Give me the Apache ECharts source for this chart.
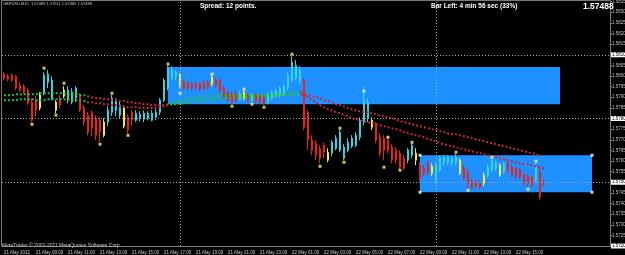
<!DOCTYPE html>
<html><head><meta charset="utf-8">
<script src="https://cdn.jsdelivr.net/npm/echarts@6/dist/echarts.min.js"></script>
<style>html,body{margin:0;padding:0;background:#000;}#c{width:625px;height:255px;}</style>
</head><body><div id="c"></div>
<script>
// ---- data (GBPUSD M15, 21-22 May 2012) ----
const opens = [1.58009,1.57999,1.58004,1.57999,1.57957,1.57952,1.57933,1.57877,1.57886,1.57849,
1.57919,1.57971,1.57896,1.57877,1.57896,1.57905,1.57886,1.57877,1.57896,1.57910,
1.57849,1.57816,1.57830,1.57801,1.57792,1.57721,1.57783,1.57830,1.57839,1.57816,
1.57849,1.57806,1.57830,1.57792,1.57801,1.57797,1.57801,1.57792,1.57806,1.57830,
1.57886,1.57943,1.57990,1.57999,1.58004,1.57971,1.57966,1.57962,1.57966,1.57962,
1.57966,1.57971,1.57962,1.57980,1.57980,1.57943,1.57919,1.57910,1.57914,1.57891,
1.57896,1.57910,1.57886,1.57910,1.57905,1.57900,1.57877,1.57896,1.57905,1.57910,
1.57914,1.57943,1.57980,1.57990,1.57980,1.57980,1.57830,1.57698,1.57684,1.57660,
1.57674,1.57641,1.57637,1.57660,1.57651,1.57613,1.57651,1.57670,1.57674,1.57712,
1.57783,1.57801,1.57792,1.57768,1.57712,1.57707,1.57698,1.57665,1.57651,1.57637,
1.57613,1.57604,1.57627,1.57637,1.57580,1.57566,1.57589,1.57542,1.57509,1.57557,
1.57589,1.57594,1.57589,1.57594,1.57604,1.57566,1.57547,1.57500,1.57500,1.57495,
1.57495,1.57533,1.57557,1.57566,1.57580,1.57547,1.57589,1.57571,1.57566,1.57557,
1.57533,1.57528,1.57524,1.57509,1.57547,1.57489];
const closes = [1.57990,1.57985,1.57980,1.57943,1.57933,1.57924,1.57872,1.57792,1.57839,1.57910,
1.58004,1.58009,1.57980,1.57839,1.57863,1.57933,1.57933,1.57924,1.57943,1.57839,
1.57783,1.57736,1.57754,1.57721,1.57736,1.57783,1.57839,1.57896,1.57886,1.57863,
1.57764,1.57745,1.57792,1.57825,1.57820,1.57825,1.57825,1.57825,1.57830,1.57886,
1.57980,1.58037,1.58028,1.58018,1.57957,1.57943,1.57943,1.57943,1.57947,1.57938,
1.57943,1.57947,1.57995,1.57952,1.57933,1.57905,1.57886,1.57877,1.57886,1.57919,
1.57924,1.57886,1.57910,1.57882,1.57877,1.57872,1.57910,1.57924,1.57933,1.57943,
1.57952,1.58004,1.58065,1.58051,1.58028,1.57759,1.57698,1.57651,1.57627,1.57613,
1.57641,1.57604,1.57688,1.57707,1.57736,1.57665,1.57688,1.57707,1.57721,1.57792,
1.57886,1.57877,1.57759,1.57698,1.57637,1.57651,1.57651,1.57604,1.57604,1.57571,
1.57566,1.57651,1.57674,1.57604,1.57519,1.57542,1.57547,1.57575,1.57580,1.57613,
1.57618,1.57618,1.57613,1.57618,1.57542,1.57519,1.57495,1.57476,1.57481,1.57476,
1.57533,1.57571,1.57604,1.57594,1.57533,1.57589,1.57557,1.57533,1.57524,1.57524,
1.57495,1.57495,1.57486,1.57571,1.57429,1.57488];
const lows = [1.57980,1.57976,1.57971,1.57933,1.57924,1.57914,1.57863,1.57783,1.57811,1.57839,
1.57910,1.57943,1.57886,1.57825,1.57849,1.57896,1.57872,1.57867,1.57877,1.57830,
1.57768,1.57721,1.57717,1.57698,1.57688,1.57712,1.57764,1.57811,1.57811,1.57801,
1.57754,1.57731,1.57764,1.57783,1.57787,1.57783,1.57792,1.57787,1.57792,1.57816,
1.57877,1.57933,1.57980,1.57980,1.57943,1.57933,1.57933,1.57933,1.57938,1.57929,
1.57933,1.57938,1.57952,1.57943,1.57919,1.57896,1.57877,1.57867,1.57877,1.57882,
1.57886,1.57877,1.57877,1.57872,1.57867,1.57863,1.57867,1.57886,1.57896,1.57900,
1.57905,1.57933,1.57971,1.57980,1.57962,1.57745,1.57651,1.57627,1.57604,1.57589,
1.57613,1.57594,1.57622,1.57651,1.57641,1.57604,1.57641,1.57660,1.57665,1.57698,
1.57768,1.57783,1.57745,1.57684,1.57622,1.57604,1.57637,1.57589,1.57589,1.57561,
1.57557,1.57589,1.57613,1.57580,1.57505,1.57528,1.57533,1.57528,1.57491,1.57547,
1.57575,1.57580,1.57575,1.57580,1.57533,1.57509,1.57472,1.57467,1.57472,1.57467,
1.57481,1.57519,1.57547,1.57552,1.57524,1.57538,1.57542,1.57524,1.57514,1.57514,
1.57486,1.57481,1.57476,1.57500,1.57415,1.57482];
const highs = [1.58018,1.58009,1.58013,1.58004,1.57971,1.57962,1.57943,1.57896,1.57905,1.57924,
1.58018,1.58028,1.57999,1.57886,1.57910,1.57952,1.57952,1.57943,1.57952,1.57919,
1.57863,1.57830,1.57839,1.57816,1.57806,1.57801,1.57858,1.57910,1.57896,1.57886,
1.57858,1.57820,1.57839,1.57839,1.57834,1.57839,1.57834,1.57839,1.57844,1.57896,
1.57990,1.58046,1.58046,1.58028,1.58013,1.57980,1.57976,1.57971,1.57976,1.57971,
1.57980,1.57980,1.58004,1.57990,1.57990,1.57952,1.57933,1.57924,1.57933,1.57933,
1.57933,1.57919,1.57919,1.57919,1.57914,1.57910,1.57919,1.57933,1.57943,1.57952,
1.57962,1.58018,1.58093,1.58075,1.58046,1.57990,1.57839,1.57721,1.57698,1.57674,
1.57688,1.57660,1.57698,1.57721,1.57745,1.57679,1.57707,1.57721,1.57736,1.57806,
1.57952,1.57896,1.57806,1.57783,1.57731,1.57721,1.57712,1.57679,1.57665,1.57651,
1.57627,1.57660,1.57684,1.57660,1.57594,1.57580,1.57604,1.57589,1.57594,1.57627,
1.57627,1.57627,1.57622,1.57632,1.57613,1.57580,1.57561,1.57514,1.57509,1.57509,
1.57547,1.57585,1.57613,1.57604,1.57589,1.57599,1.57599,1.57580,1.57575,1.57566,
1.57542,1.57538,1.57533,1.57589,1.57566,1.57511];
// candle colour class: r = red, c = cyan, y = yellow
const candleColors = ("rrrrrrrrr"+"y"+"ccc"+"y"+"r"+"y"+"ccc"+"rrrrrr"+"y"+"cccc"+"y"+"rr"+"ccccccccccc"+"y"+
 "rrrrrrr"+"y"+"rrrrrr"+"c"+"y"+"r"+"c"+"rrr"+"ccccccccc"+"rrrrrr"+"y"+"cccccccccc"+"y"+"rrrrrrrr"+"cc"+"y"+
 "rrr"+"y"+"cccccc"+"y"+"rrrrr"+"y"+"ccc"+"y"+"c"+"rrrrrrr"+"c"+"rr").split('');
const maSlow = [1.57910,1.57910,1.57910,1.57914,1.57914,1.57914,1.57914,1.57914,1.57914,1.57919,
1.57919,1.57919,1.57919,1.57919,1.57919,1.57919,1.57914,1.57914,1.57914,1.57910,1.57910,1.57905,
1.57900,1.57896,1.57896,1.57891,1.57891,1.57886,1.57886,1.57882,1.57882,1.57877,1.57877,1.57872,1.57872,1.57867,1.57867,1.57863,1.57863,1.57863,1.57863,1.57867,
1.57867,1.57867,1.57872,1.57872,1.57877,1.57877,1.57882,1.57882,1.57886,1.57886,1.57891,1.57891,1.57891,1.57896,1.57896,1.57896,1.57896,1.57900,1.57900,1.57900,1.57900,1.57900,1.57905,1.57905,1.57905,1.57905,1.57905,1.57910,1.57910,1.57910,1.57914,1.57914,1.57914,
1.57914,1.57910,1.57905,1.57900,1.57896,1.57886,1.57882,1.57877,1.57867,1.57863,1.57858,1.57849,1.57844,1.57839,1.57834,1.57830,1.57830,1.57825,1.57820,1.57816,1.57811,1.57806,1.57801,1.57797,1.57787,1.57783,1.57778,1.57773,1.57768,1.57764,1.57759,1.57754,1.57750,1.57745,1.57740,1.57736,1.57731,1.57726,1.57726,1.57721,1.57717,1.57712,1.57707,1.57703,1.57698,1.57693,1.57688,1.57684,1.57679,1.57674,1.57670,1.57665,1.57660,1.57655,1.57651,1.57646,1.57641,1.57637,1.57632,1.57627,1.57622];
const maFast = [1.57886,1.57886,1.57886,1.57886,1.57891,1.57891,1.57891,1.57891,1.57886,1.57886,1.57886,
1.57891,1.57891,1.57891,1.57891,1.57891,1.57891,1.57886,1.57886,1.57886,1.57882,1.57877,
1.57877,1.57872,1.57872,1.57867,1.57867,1.57863,1.57863,1.57858,1.57858,1.57853,1.57853,1.57853,1.57849,1.57849,1.57849,1.57849,1.57849,1.57853,1.57858,1.57863,
1.57872,1.57877,1.57882,1.57886,1.57891,1.57896,1.57900,1.57900,1.57905,1.57905,1.57905,1.57905,
1.57910,1.57910,1.57910,1.57910,1.57910,1.57910,1.57910,1.57910,1.57910,1.57910,1.57910,1.57910,
1.57914,1.57914,1.57914,1.57914,1.57919,1.57919,1.57924,1.57924,1.57929,
1.57910,1.57900,1.57886,1.57877,1.57863,1.57853,1.57844,1.57839,1.57830,1.57825,1.57816,1.57811,1.57801,
1.57797,1.57792,1.57787,1.57783,1.57778,1.57773,1.57768,1.57764,1.57759,1.57754,1.57750,1.57745,1.57736,
1.57731,1.57726,1.57721,1.57717,1.57712,1.57703,1.57698,1.57693,1.57684,
1.57679,1.57674,1.57670,1.57665,1.57660,1.57655,1.57651,1.57646,1.57641,1.57637,1.57632,1.57627,1.57622,1.57618,1.57613,
1.57608,1.57604,1.57599,1.57594,1.57589,1.57585,1.57585,1.57580,1.57575,1.57571,1.57566];
// fractal markers: [bar index, price]
const fractals = [[7,1.57773],[10,1.58037],[13,1.57816],[15,1.57966],[24,1.57679],[27,1.57919],[31,1.57721],
[41,1.58056],[44,1.57919],[52,1.58009],[57,1.57858],[60,1.57938],[62,1.57867],[65,1.57853],[72,1.58103],
[79,1.57575],[84,1.57754],[85,1.57594],[90,1.57929],[95,1.57571],[96,1.57712],[99,1.57557],[102,1.57688],
[113,1.57641],[116,1.57462],[122,1.57618],[131,1.57467],[133,1.57599]];
// rectangles: start bar, end bar, top price, bottom price
const rectStart = [41, 104];
const rectEnd = [139, 147];
const rectTop = [1.58042, 1.57627];
const rectBottom = [1.57867, 1.57453];
const hLines = [1.5810, 1.5780, 1.5750, 1.5720];
const vLines = [44, 108];
const timeLabels = ["21 May 2012","21 May 09:00","21 May 11:00","21 May 13:00","21 May 15:00","21 May 17:00",
"21 May 19:00","21 May 21:00","21 May 23:00","22 May 01:00","22 May 03:00","22 May 05:00","22 May 07:00",
"22 May 09:00","22 May 11:00","22 May 13:00","22 May 15:00"];
const totalSlots = 152;

// ---- build ----
const colMap = {r:'#e8221c', c:'#35d4e4', y:'#f0ee3a'};
const cats = Array.from({length: totalSlots}, (_, i) => String(i));
const candleData = opens.map((o, i) => {
  const col = colMap[candleColors[i]];
  return {value:[o, closes[i], lows[i], highs[i]],
    itemStyle:{color:col, color0:col, borderColor:col, borderColor0:col, borderColorDoji:col}};
});
const rectAreas = rectStart.map((s, k) => [{xAxis:s, yAxis:rectTop[k]}, {xAxis:rectEnd[k], yAxis:rectBottom[k]}]);
const corners = [[rectStart[1], rectTop[1]],[rectEnd[1], rectTop[1]],[rectStart[1], rectBottom[1]],[rectEnd[1], rectBottom[1]]];
const lineLabel = {show:true, position:'end', distance:1, formatter:p => Number(p.value).toFixed(5),
  fontSize:4.5, color:'#000', backgroundColor:'#fff', padding:[0,1], fontFamily:'Liberation Sans'};
const markLines = hLines.map(v => ({yAxis:v, label:lineLabel}))
  .concat(vLines.map(v => ({xAxis:v, label:{show:false}})));
const green = '#22c23a', red = '#c4283a';

const chart = echarts.init(document.getElementById('c'), null, {renderer:'canvas'});
chart.setOption({
  backgroundColor:'#000',
  animation:false,
  grid:{left:2, right:15, top:1, bottom:9, containLabel:false, outerBoundsMode:'none'},
  xAxis:{type:'category', data:cats, boundaryGap:true,
    axisLine:{show:false}, axisTick:{show:false}, splitLine:{show:false},
    axisLabel:{interval:7, margin:4, fontSize:4.5, color:'#c8c8c8', align:'left', fontFamily:'Liberation Sans',
      formatter:(v, i) => (i % 8 === 0 && i / 8 < timeLabels.length) ? timeLabels[i / 8] : ''}},
  yAxis:{type:'value', position:'right', min:1.5720, max:1.58353, interval:0.0005,
    axisLine:{show:true, lineStyle:{color:'#8a8a8a'}}, axisTick:{show:true, length:2, lineStyle:{color:'#8a8a8a'}},
    splitLine:{show:false}, showMaxLabel:false,
    axisLabel:{fontSize:4.5, color:'#c0c0c0', margin:2, fontFamily:'Liberation Sans', formatter:v => v.toFixed(5)}},
  visualMap:[{type:'piecewise', show:false, seriesIndex:[2,3], dimension:0,
    pieces:[{lte:21, color:green},{gt:21, lte:41, color:red},{gt:41, lte:74, color:green},{gt:74, color:red}]}],
  series:[
    {type:'line', data:[], z:1, silent:true,
      markArea:{silent:true, itemStyle:{color:'#1e90ff', opacity:1}, data:rectAreas},
      markLine:{silent:true, symbol:'none', animation:false, precision:5,
        lineStyle:{color:'#a8a8a8', width:1, type:[1,2]}, data:markLines}},
    {type:'candlestick', data:candleData, barWidth:2, z:3, itemStyle:{borderWidth:1}},
    {type:'line', data:maSlow, showSymbol:false, z:4, silent:true, lineStyle:{width:2, type:[2,2]}},
    {type:'line', data:maFast, showSymbol:false, z:4, silent:true, lineStyle:{width:2, type:[2,2]}},
    {type:'scatter', data:fractals, symbol:'rect', symbolSize:3, z:5, itemStyle:{color:'#f2f07a'}},
    {type:'scatter', data:corners, symbol:'rect', symbolSize:3, z:5, itemStyle:{color:'#ffffff'}}
  ],
  graphic:[
    {type:'rect', silent:true, z:10, shape:{x:1.5, y:0.5, width:609, height:246}, style:{fill:null, stroke:'#7a7a7a', lineWidth:1}},
    {type:'text', x:3, y:2, z:10, style:{text:'GBPUSD,M15  1.57489 1.57511 1.57482 1.57488', fill:'#c8c8c8', font:'4px "Liberation Sans"', verticalAlign:'top'}},
    {type:'text', x:200, y:3, z:10, style:{text:'Spread: 12 points.', fill:'#ffffff', font:'bold 6.5px "Liberation Sans"', verticalAlign:'top'}},
    {type:'text', x:431, y:3, z:10, style:{text:'Bar Left: 4 min 56 sec (33%)', fill:'#ffffff', font:'bold 6.5px "Liberation Sans"', verticalAlign:'top'}},
    {type:'text', x:583, y:2, z:10, style:{text:'1.57488', fill:'#ffffff', font:'bold 8.5px "Liberation Sans"', verticalAlign:'top'}},
    {type:'text', x:2, y:243, z:10, style:{text:'MetaTrader \u00a9 2001-2011 MetaQuotes Software Corp.', fill:'#c8c8c8', font:'5px "Liberation Sans"', verticalAlign:'top'}}
  ]
});
</script></body></html>
